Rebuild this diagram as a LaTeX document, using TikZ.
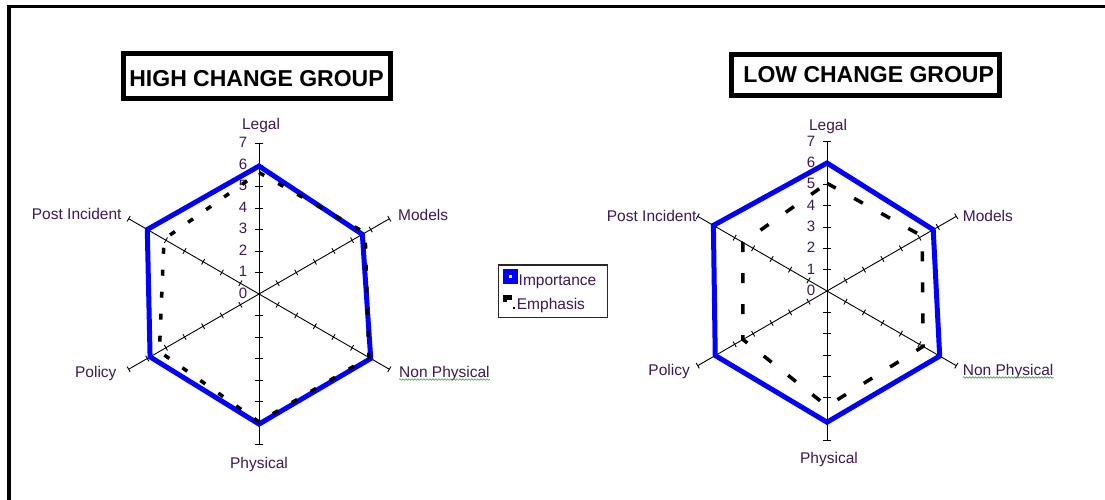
\documentclass[tikz,border=0pt]{standalone}
\usepackage{fontspec}
\setmainfont{Liberation Sans}
\usetikzlibrary{decorations.pathmorphing}
\definecolor{labelink}{RGB}{64,24,84}
\definecolor{impblue}{RGB}{0,0,255}
\definecolor{spellgreen}{RGB}{60,170,60}
\definecolor{legendgray}{RGB}{40,40,40}

% Axes of one radar chart: #1 prefix, #2 centre x, #3 centre y, #4 unit length
\newcommand\radaraxes[4]{%
  \begin{scope}[shift={(#2,#3)}]
    \coordinate (#1-c) at (0,0);
    \foreach \ang/\nm/\tl in {-90/legal/4,-30/models/3.2,30/nonphys/3.2,
                              90/phys/4,150/policy/3.2,210/postinc/3.2}{
      \draw[axisline] (0,0) -- (\ang:7*#4) coordinate (#1-\nm);
      \foreach \k in {1,...,7}
        \draw[axisline] (\ang:\k*#4) ++(\ang+90:\tl) -- ++(\ang-90:2*\tl);
    }
    \foreach \k in {0,...,7}
      \node[numlabel] (#1-n\k) at (-11.5,-\k*#4+4.4) {\k};
  \end{scope}}

\begin{document}
\begin{tikzpicture}[x=1pt,y=-1pt,
    axisline/.style={black,line width=0.9pt},
    numlabel/.style={anchor=base east,inner sep=0pt,text=labelink,
                     font=\fontsize{15}{18}\selectfont},
    axislabel/.style={inner sep=0pt,text=labelink,
                      font=\fontsize{15.5}{18}\selectfont},
    importance/.style={impblue,line width=5pt,line join=miter},
    emphasis/.style={black,line width=3.5pt},
    titlebox/.style={draw=black,line width=5pt,fill=white,inner sep=0pt},
    titletext/.style={inner sep=0pt,font=\fontsize{23}{26}\selectfont\bfseries},
    spelling/.style={spellgreen,line width=0.6pt,decorate,
                     decoration={snake,amplitude=0.8pt,segment length=3pt}},
    legendtext/.style={inner sep=0pt,anchor=base west,text=labelink,
                       font=\fontsize{15.5}{18}\selectfont}]
  \useasboundingbox (0,0) rectangle (1105,500);
  \fill[white] (0,0) rectangle (1105,500);

  % page frame (left and top edges)
  \draw[line width=3.3pt,black] (9,500) -- (9,6.7) -- (1105,6.7);

  % titles
  \node[titlebox,minimum width=267pt,minimum height=45pt] (tbhigh) at (256.7,75.7) {};
  \node[titletext] (thigh) at (256.5,79) {HIGH CHANGE GROUP};
  \node[titlebox,minimum width=267.4pt,minimum height=41.6pt] (tblow) at (865.5,75) {};
  \node[titletext] (tlow) at (868.7,74.3) {LOW CHANGE GROUP};

  % ---------- high change group ----------
  \radaraxes{H}{259}{294}{21.5}
  \begin{scope}[shift={(259,294)}]
    \draw[importance] (-90:5.95*21.5) -- (-30:5.55*21.5) -- (30:6.0*21.5)
      -- (90:6.05*21.5) -- (150:5.85*21.5) -- (210:6.0*21.5) -- cycle;
    \draw[emphasis,dash pattern=on 6pt off 16pt]
      (-90:5.65*21.5) -- (-30:5.7*21.5) -- (30:5.9*21.5)
      -- (90:5.95*21.5) -- (150:5.35*21.5) -- (210:5.1*21.5) -- cycle;
  \end{scope}
  \node[axislabel,anchor=base] (Hlegal) at (261,129.5) {Legal};
  \node[axislabel,anchor=base west] (Hmodels) at (398,220.5) {Models};
  \node[axislabel,anchor=base west] (Hnonphys) at (399,377) {Non Physical};
  \node[axislabel,anchor=base] (Hphys) at (259,468.3) {Physical};
  \node[axislabel,anchor=base east] (Hpolicy) at (116.7,377.3) {Policy};
  \node[axislabel,anchor=base east] (Hpostinc) at (121.7,219.3) {Post Incident};
  \draw[spelling] ([yshift=-2.5pt]Hnonphys.base west) -- ([yshift=-2.5pt]Hnonphys.base east);

  % ---------- low change group ----------
  \radaraxes{L}{827}{291}{21.33}
  \begin{scope}[shift={(827,291)}]
    \draw[importance] (-90:6.0*21.33) -- (-30:5.75*21.33) -- (30:6.1*21.33)
      -- (90:6.15*21.33) -- (150:6.05*21.33) -- (210:6.15*21.33) -- cycle;
    \draw[emphasis,dash pattern=on 10pt off 21pt]
      (-90:5.05*21.33) -- (-30:5.15*21.33) -- (30:5.2*21.33)
      -- (90:5.4*21.33) -- (150:4.55*21.33) -- (210:4.55*21.33) -- cycle;
  \end{scope}
  \node[axislabel,anchor=base] (Llegal) at (828,130.5) {Legal};
  \node[axislabel,anchor=base west] (Lmodels) at (962.7,221.5) {Models};
  \node[axislabel,anchor=base west] (Lnonphys) at (962.7,375) {Non Physical};
  \node[axislabel,anchor=base] (Lphys) at (829,463.3) {Physical};
  \node[axislabel,anchor=base east] (Lpolicy) at (690,375) {Policy};
  \node[axislabel,anchor=base east] (Lpostinc) at (696.7,221.5) {Post Incident};
  \draw[spelling] ([yshift=-2.5pt]Lnonphys.base west) -- ([yshift=-2.5pt]Lnonphys.base east);

  % ---------- legend ----------
  \node[draw=legendgray,line width=1.3pt,fill=white,inner sep=0pt,
        minimum width=109.4pt,minimum height=52.7pt] (legend) at (553,291.3) {};
  \node[fill=impblue,inner sep=0pt,minimum size=15pt] (swimp) at (510.5,276.8) {};
  \node[fill=white,inner sep=0pt,minimum size=3.2pt] (swimpdot) at (swimp.center) {};
  \node[legendtext] (limp) at (518.5,285.7) {Importance};
  \fill[black] (503,295) rectangle (511.5,299.5);
  \fill[black] (503,299.5) rectangle (507,302);
  \fill[black] (512.5,306.8) rectangle (514.6,308.9);
  \node[legendtext] (lemp) at (516.7,309.3) {Emphasis};
\end{tikzpicture}
\end{document}
